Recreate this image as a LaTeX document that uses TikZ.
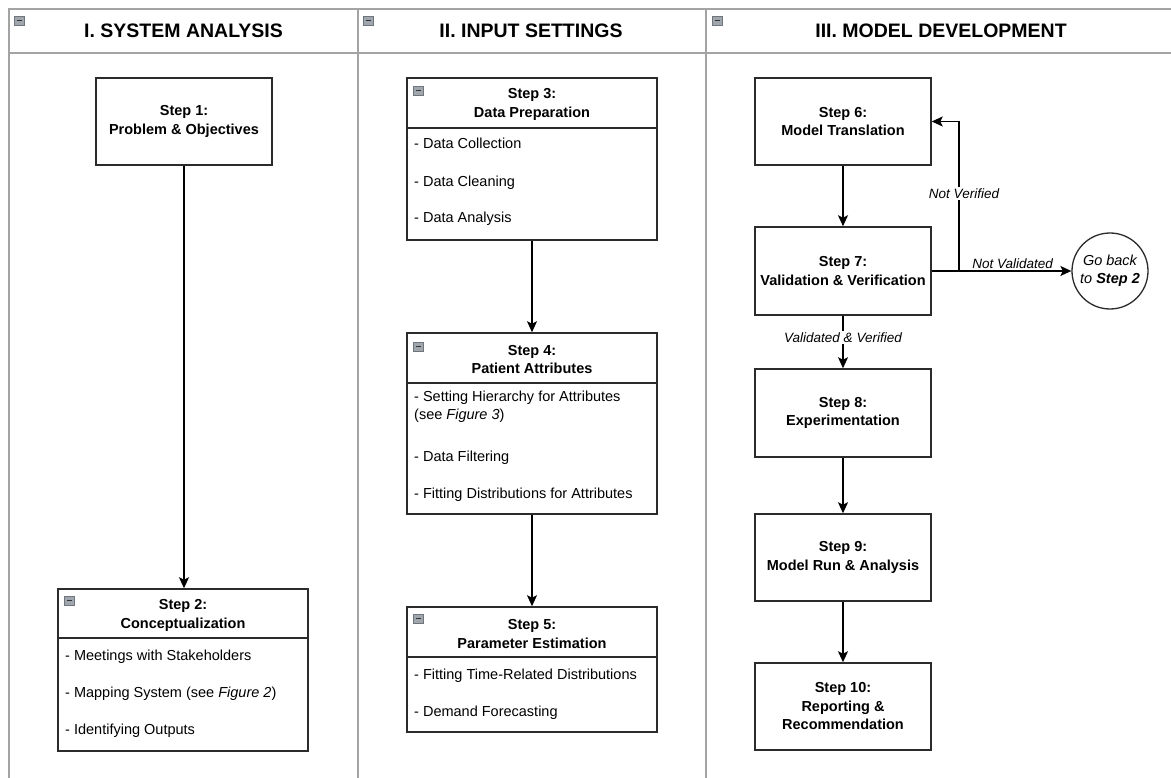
\documentclass[tikz,border=0pt]{standalone}
\usepackage{fontspec}
\setmainfont{Liberation Sans}
\usetikzlibrary{arrows.meta}
\definecolor{lanegray}{HTML}{A3A3A3}
\definecolor{boxc}{HTML}{2B2B2B}
\definecolor{icongray}{HTML}{A0A6AE}
\definecolor{icondark}{HTML}{6F757D}
\newcommand\mystepfont{\bfseries\fontsize{14.5}{18.5}\selectfont}
\newcommand\myitemfont{\fontsize{14.5}{18}\selectfont}
\newcommand\mylblfont{\itshape\fontsize{13.5}{17}\selectfont}
\newcommand\mytitlefont{\bfseries\fontsize{19.5}{22}\selectfont}
\newcommand\cicon[2]{%
  \filldraw[fill=icongray, draw=icondark, line width=0.8pt] (#1,#2) rectangle ++(10,9);
  \draw[line width=1.6pt, draw=black!80] (#1+2.5,#2+4.5) -- (#1+7.5,#2+4.5);}
\begin{document}
\begin{tikzpicture}[x=1pt,y=-1pt,
  lane/.style={draw=lanegray, line width=1.6pt},
  box/.style={draw=boxc, line width=1.5pt, fill=white, inner sep=0pt, minimum width=176pt, minimum height=87pt, align=center, font=\mystepfont},
  lbox/.style={draw=boxc, line width=1.5pt, fill=white, inner sep=0pt, minimum width=250pt},
  divline/.style={draw=boxc, line width=1.5pt},
  head/.style={align=center, font=\mystepfont, inner sep=0pt},
  item/.style={anchor=base west, align=left, font=\myitemfont, inner sep=0pt},
  item2/.style={anchor=west, align=left, font=\myitemfont, inner sep=0pt},
  lbl/.style={font=\mylblfont, inner sep=1.5pt},
  arr/.style={draw=black, line width=1.6pt, -{Stealth[length=11pt,width=10pt,inset=2.5pt]}},
  title/.style={font=\mytitlefont, inner sep=0pt},
]
\useasboundingbox[fill=white] (0,0) rectangle (1171,778);

% swimlanes
\draw[lane] (9,778) -- (9,9) -- (1171,9);
\draw[lane] (9,53) -- (1171,53);
\draw[lane] (358,9) -- (358,778);
\draw[lane] (706,9) -- (706,778);
\cicon{14}{16}
\cicon{363}{16}
\cicon{712}{16}
\node[title] (t1) at (183.5,31) {I. SYSTEM ANALYSIS};
\node[title] (t2) at (531,31) {II. INPUT SETTINGS};
\node[title] (t3) at (941,31) {III. MODEL DEVELOPMENT};

% lane I
\node[box] (s1) at (184,121.5) {Step 1:\\Problem \& Objectives};
\node[lbox, minimum height=162pt] (s2) at (183,670) {};
\draw[divline] (s2.west |- 0,638) -- (s2.east |- 0,638);
\cicon{64}{596}
\node[head] (s2h) at (183,615.5) {Step 2:\\Conceptualization};
\node[item] (s2a) at (65,660) {- Meetings with Stakeholders};
\node[item] (s2b) at (65,697) {- Mapping System (see \textit{Figure 2})};
\node[item] (s2c) at (65,734) {- Identifying Outputs};

% lane II
\node[lbox, minimum height=162pt] (s3) at (532,159) {};
\draw[divline] (s3.west |- 0,128) -- (s3.east |- 0,128);
\cicon{413}{86}
\node[head] (s3h) at (532,104.5) {Step 3:\\Data Preparation};
\node[item] (s3a) at (414,149) {- Data Collection};
\node[item] (s3b) at (414,187) {- Data Cleaning};
\node[item] (s3c) at (414,223) {- Data Analysis};

\node[lbox, minimum height=181pt] (s4) at (532,423.5) {};
\draw[divline] (s4.west |- 0,383) -- (s4.east |- 0,383);
\cicon{413}{342}
\node[head] (s4h) at (532,359.5) {Step 4:\\Patient Attributes};
\node[item2] (s4a) at (414,407) {- Setting Hierarchy for Attributes\\(see \textit{Figure 3})};
\node[item] (s4b) at (414,461) {- Data Filtering};
\node[item] (s4c) at (414,498) {- Fitting Distributions for Attributes};

\node[lbox, minimum height=125pt] (s5) at (532,669.5) {};
\draw[divline] (s5.west |- 0,657) -- (s5.east |- 0,657);
\cicon{413}{614}
\node[head] (s5h) at (532,634) {Step 5:\\Parameter Estimation};
\node[item] (s5a) at (414,679) {- Fitting Time-Related Distributions};
\node[item] (s5b) at (414,716) {- Demand Forecasting};

% lane III
\node[box] (s6) at (843,121.5) {Step 6:\\Model Translation};
\node[box, minimum height=88pt] (s7) at (843,271) {Step 7:\\Validation \& Verification};
\node[box, minimum height=88pt] (s8) at (843,413) {Step 8:\\Experimentation};
\node[box] (s9) at (843,557.5) {Step 9:\\Model Run \& Analysis};
\node[box] (s10) at (843,706.5) {Step 10:\\Reporting \&\\Recommendation};
\node[circle, draw=boxc, line width=1.3pt, fill=white, minimum size=76pt, inner sep=0pt, align=center, font=\itshape\fontsize{14.5}{17.5}\selectfont] (gb) at (1110,271) {Go back\\to \textbf{Step 2}};

% connectors
\draw[arr] (s1.south) -- (s1.south |- s2.north);
\draw[arr] (s3.south) -- (s4.north);
\draw[arr] (s4.south) -- (s5.north);
\draw[arr] (s6.south) -- (s7.north);
\draw[arr] (s7.south) -- node[lbl, fill=white, pos=0.42] (lvv) {Validated \& Verified} (s8.north);
\draw[arr] (s8.south) -- (s9.north);
\draw[arr] (s9.south) -- (s10.north);
\draw[arr] (s7.east) -- node[lbl, above, pos=0.58] (lnval) {Not Validated} (gb.west);
\coordinate (j) at (959,271);
\draw[arr] (j) |- node[lbl, fill=white, pos=0.26, xshift=5pt] (lnver) {Not Verified} (s6.east);
\end{tikzpicture}
\end{document}
